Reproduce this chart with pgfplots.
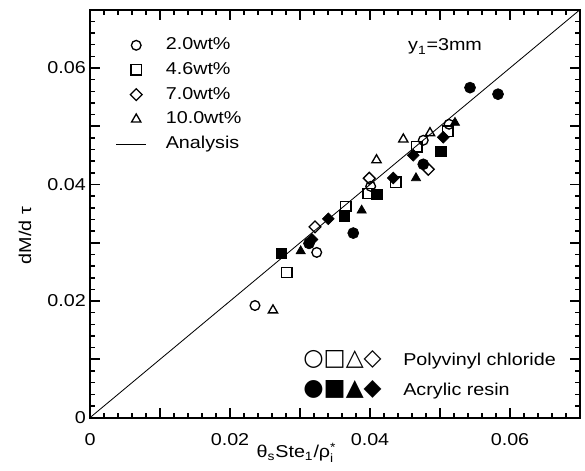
\documentclass[border=0pt]{standalone}
\usepackage{fontspec}
\usepackage{amsmath}
\setmainfont{Liberation Sans}[FakeStretch=1.15]
\newfontfamily\symfont{DejaVu Sans}
\usepackage{pgfplots}
\pgfplotsset{compat=1.18}
\begin{document}
\begin{tikzpicture}[font=\fontsize{10.3}{12.4}\selectfont]
\begin{axis}[
  scale only axis, width=294pt, height=244.8pt,
  xmin=0, xmax=0.07, ymin=0, ymax=0.07,
  scaled ticks=false,
  xtick={0,0.01,0.02,0.03,0.04,0.05,0.06,0.07},
  xticklabels={0,,0.02,,0.04,,0.06,},
  ytick={0,0.01,0.02,0.03,0.04,0.05,0.06,0.07},
  yticklabels={0,,0.02,,0.04,,0.06,},
  minor x tick num=4, minor y tick num=4,
  tick align=inside, xtick pos=both, ytick pos=both,
  major tick length=6pt, minor tick length=3pt,
  every major tick/.append style={black, line width=1.1pt},
  every minor tick/.append style={black, line width=0.9pt},
  axis line style={line width=1.2pt},
  x tick label style={inner sep=1pt, yshift=-8.4pt},
  y tick label style={xshift=1pt},
  xlabel={$\text{θ}_{\text{s}}\text{Ste}_{\text{1}}\text{/}\text{ρ}_{\text{i}}^{\text{*}}$},
  xlabel style={at={(rel axis cs:0.4215,-0.098)}, anchor=base, inner sep=0pt},
  ylabel={dM/d τ},
  ylabel style={at={(rel axis cs:-0.1327,0.446)}, anchor=center},
  legend cell align=left,
  legend image code/.code={\draw[mark repeat=2,mark phase=2,#1] plot coordinates {(0pt,0pt) (12pt,0pt) (18pt,0pt)};},
  legend style={draw=none, fill=none, inner sep=0pt, at={(rel axis cs:0.052,0.937)}, anchor=north west,
    nodes={inner sep=1pt, text height=7.5pt, text depth=2pt}, row sep=3.3pt,
    /tikz/every odd column/.append style={column sep=10.5pt}},
]
\coordinate (ll) at (rel axis cs:0,0);
\coordinate (ur) at (rel axis cs:1,1);
% Polyvinyl chloride (open)
\addplot[only marks, mark=o, mark size=2.9pt, mark options={black, line width=0.8pt}]
  coordinates {(0.02357,0.01924) (0.03239,0.02835) (0.04010,0.03969) (0.04761,0.04759) (0.05129,0.05034)};
\addlegendentry{2.0wt\%}
\addplot[only marks, mark=square, mark size=3.1pt, mark options={black, line width=0.8pt}]
  coordinates {(0.02814,0.02491) (0.03657,0.03625) (0.03976,0.03844) (0.04371,0.04043) (0.04667,0.04644) (0.05114,0.04914)};
\addlegendentry{4.6wt\%}
\addplot[only marks, mark=square, mark size=2.5pt, mark options={black, line width=0.8pt, rotate=45}]
  coordinates {(0.03214,0.03273) (0.03990,0.04107) (0.04833,0.04261)};
\addlegendentry{7.0wt\%}
\addplot[only marks, mark=triangle, mark size=3.2pt, mark options={black, line width=0.8pt}]
  coordinates {(0.02614,0.01843) (0.04093,0.04420) (0.04476,0.04776) (0.04857,0.04884)};
\addlegendentry{10.0wt\%}
\addplot[black, line width=0.5pt, no marks] coordinates {(0,0) (0.07,0.07)};
\addlegendentry{Analysis}
% Acrylic resin (filled)
\addplot[forget plot, only marks, mark=*, mark size=3.3pt, mark options={black, fill=black}]
  coordinates {(0.03129,0.02990) (0.03761,0.03167) (0.04761,0.04347) (0.05429,0.05662) (0.05829,0.05550)};
\addplot[forget plot, only marks, mark=square*, mark size=3.1pt, mark options={black, fill=black}]
  coordinates {(0.02729,0.02818) (0.03633,0.03462) (0.04096,0.03832) (0.05014,0.04570)};
\addplot[forget plot, only marks, mark=triangle*, mark size=3.2pt, mark options={black, fill=black}]
  coordinates {(0.03010,0.02857) (0.03881,0.03556) (0.04657,0.04111) (0.05214,0.05061)};
\addplot[forget plot, only marks, mark=square*, mark size=2.5pt, mark options={black, fill=black, rotate=45}]
  coordinates {(0.03171,0.03058) (0.03404,0.03411) (0.04333,0.04112) (0.04619,0.04502) (0.05047,0.04811)};
\node[anchor=base west, inner sep=0pt] at (axis cs:0.0454,0.06306) {$\text{y}_{\text{1}}\text{=3mm}$};
\node[anchor=base east, inner sep=0pt, font=\symfont\fontsize{14}{14}\selectfont] at (axis cs:0.04171,0.00893) {○□△◇};
\node[anchor=base west, inner sep=0pt] at (axis cs:0.04471,0.00893) {Polyvinyl chloride};
\node[anchor=base east, inner sep=0pt, font=\symfont\fontsize{14}{14}\selectfont] at (axis cs:0.04171,0.00378) {●■▲◆};
\node[anchor=base west, inner sep=0pt] at (axis cs:0.04471,0.00378) {Acrylic resin};
\end{axis}
\path ([shift={(-54pt,-31.8pt)}]ll) rectangle ([shift={(3pt,5.8pt)}]ur);
\end{tikzpicture}
\end{document}
